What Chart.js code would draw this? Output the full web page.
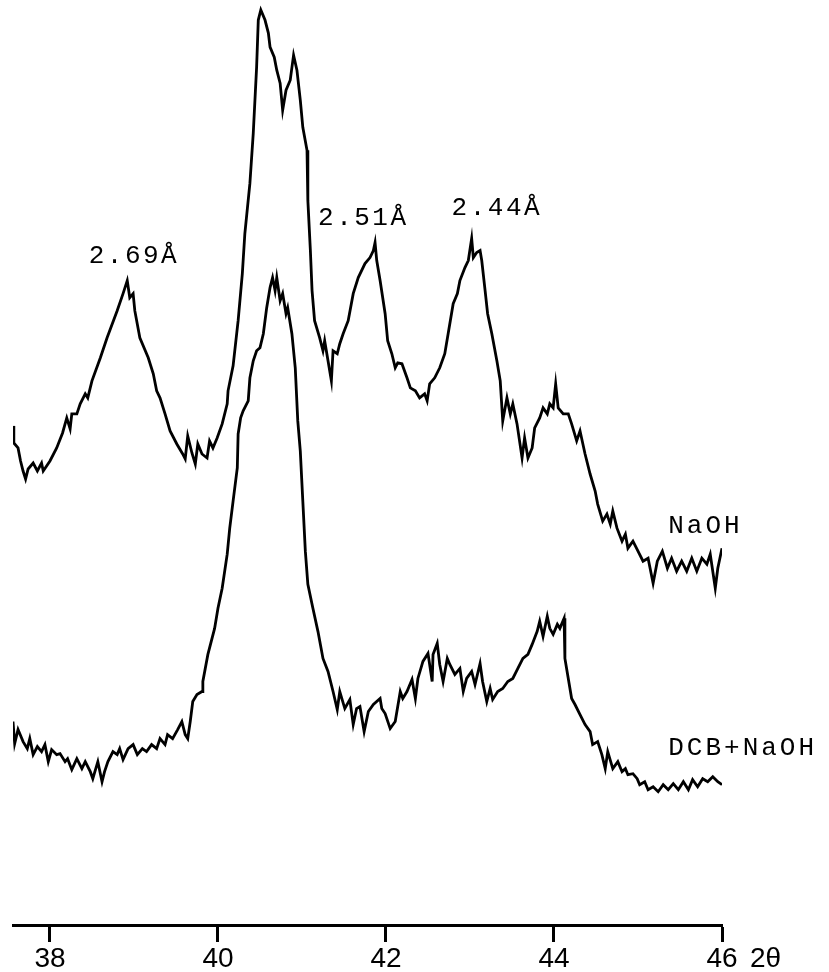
<!DOCTYPE html>
<html><head><meta charset="utf-8">
<script src="https://cdn.jsdelivr.net/npm/chart.js@4"></script>
<style>html,body{margin:0;padding:0;background:#fff;}canvas{display:block}</style>
</head><body>
<canvas id="c" width="829" height="972"></canvas>
<script>
// 2θ (degrees) and relative intensity
const twoThetaNaOH = [37.56,37.57,37.62,37.65,37.68,37.71,37.74,37.80,37.85,37.90,
37.92,38.00,38.08,38.15,38.20,38.24,38.26,38.32,38.36,38.42,
38.45,38.50,38.60,38.68,38.80,38.87,38.92,38.95,38.99,39.01,
39.07,39.17,39.23,39.27,39.31,39.37,39.43,39.51,39.58,39.61,
39.64,39.69,39.73,39.76,39.81,39.87,39.90,39.94,39.99,40.05,
40.11,40.12,40.18,40.24,40.29,40.32,40.38,40.42,40.46,40.48,
40.51,40.56,40.60,40.62,40.67,40.70,40.74,40.77,40.81,40.86,
40.90,40.94,40.98,41.01,41.06,41.07,41.10,41.12,41.15,41.21,
41.25,41.27,41.31,41.35,41.37,41.42,41.45,41.49,41.55,41.61,
41.67,41.75,41.81,41.85,41.87,41.89,41.93,41.99,42.02,42.07,
42.11,42.14,42.19,42.25,42.29,42.35,42.40,42.46,42.49,42.52,
42.58,42.64,42.70,42.74,42.80,42.85,42.88,42.94,42.98,43.02,
43.04,43.08,43.12,43.14,43.18,43.21,43.26,43.32,43.36,43.39,
43.44,43.48,43.51,43.56,43.62,43.65,43.69,43.74,43.77,43.83,
43.87,43.92,43.95,43.99,44.02,44.05,44.11,44.17,44.21,44.27,
44.31,44.37,44.43,44.49,44.52,44.58,44.63,44.67,44.70,44.75,
44.81,44.85,44.88,44.94,45.00,45.06,45.12,45.18,45.23,45.29,
45.35,45.40,45.46,45.52,45.58,45.64,45.70,45.76,45.82,45.86,
45.92,45.95,46.00];
const intensityNaOH = [498,481,476,463,453,445,455,461,453,461,
453,463,476,491,506,495,510,510,520,530,
526,543,566,586,613,630,643,626,630,613,
586,566,550,533,526,510,493,480,470,465,
488,471,460,480,470,466,483,476,486,500,
520,533,558,603,650,690,740,790,856,903,
913,903,890,876,866,853,840,813,833,843,
868,853,823,796,773,723,673,633,603,586,
573,583,563,543,573,570,580,590,603,630,
646,660,666,673,681,663,643,610,583,570,
556,561,560,546,536,533,526,530,523,540,
546,556,570,590,620,630,643,656,663,685,
666,671,673,663,633,610,590,563,543,503,
526,510,520,500,466,486,466,476,496,506,
516,510,520,516,540,516,510,510,500,483,
493,470,450,433,420,403,410,400,413,396,
383,390,376,383,373,363,366,341,363,373,
356,366,353,363,353,366,353,366,360,370,
336,356,376];
const twoThetaDCB = [37.56,37.58,37.62,37.68,37.73,37.76,37.80,37.85,37.90,37.94,
37.98,38.02,38.08,38.12,38.18,38.21,38.26,38.32,38.38,38.42,
38.48,38.51,38.57,38.62,38.65,38.69,38.75,38.80,38.83,38.87,
38.93,38.99,39.04,39.10,39.15,39.21,39.27,39.31,39.37,39.40,
39.46,39.52,39.57,39.61,39.64,39.67,39.70,39.75,39.81,39.82,
39.88,39.96,40.00,40.05,40.11,40.14,40.18,40.23,40.24,40.27,
40.30,40.36,40.38,40.42,40.46,40.50,40.54,40.58,40.62,40.65,
40.68,40.70,40.74,40.77,40.81,40.83,40.88,40.92,40.95,40.98,
41.01,41.04,41.07,41.13,41.19,41.25,41.31,41.37,41.42,41.45,
41.51,41.57,41.61,41.65,41.69,41.74,41.79,41.85,41.93,41.95,
41.99,42.05,42.11,42.17,42.20,42.25,42.31,42.35,42.38,42.44,
42.50,42.55,42.56,42.61,42.64,42.68,42.73,42.76,42.82,42.88,
42.92,42.96,43.02,43.06,43.12,43.15,43.20,43.24,43.27,43.33,
43.39,43.45,43.51,43.57,43.63,43.69,43.74,43.80,43.83,43.87,
43.92,43.95,43.99,44.04,44.07,44.12,44.13,44.17,44.21,44.25,
44.31,44.37,44.43,44.46,44.52,44.57,44.61,44.64,44.70,44.76,
44.81,44.85,44.88,44.94,44.99,45.02,45.08,45.12,45.18,45.24,
45.30,45.36,45.42,45.48,45.54,45.60,45.65,45.71,45.77,45.83,
45.89,45.95,46.00];
const intensityDCB = [203,181,195,183,176,186,170,178,173,180,
163,175,170,171,163,166,155,166,156,163,
153,146,163,143,153,163,173,170,176,165,
176,180,170,176,173,180,176,186,180,190,
186,195,203,190,186,203,223,230,233,243,
270,296,316,336,370,396,423,456,490,506,
513,523,546,563,573,576,590,616,636,646,
633,646,623,630,610,616,590,556,503,473,
423,373,340,316,293,266,253,233,215,233,
216,225,200,216,218,193,213,220,226,216,
211,196,203,233,226,233,245,226,246,263,
271,243,270,281,260,243,266,260,250,256,
233,246,253,240,261,243,223,236,225,233,
236,243,246,256,266,270,280,293,303,288,
308,296,290,300,296,306,266,246,226,220,
210,200,193,180,183,170,156,173,156,163,
153,156,150,151,146,140,143,135,138,133,
140,135,141,135,143,135,145,138,146,143,
148,143,140];
const xTickValues = [38, 40, 42, 44, 46];
const axisUnit = '2θ';
const seriesNames = ['NaOH', 'DCB+NaOH'];
const peakLabels = ['2.69Å', '2.51Å', '2.44Å'];

// where the text annotations sit, in data units
const peakLabelAt = [{x: 39.0, y: 661}, {x: 41.73, y: 698}, {x: 43.32, y: 708}];
const seriesLabelAt = [{x: 45.36, y: 391}, {x: 45.36, y: 170}];

const toPoints = (xs, ys) => xs.map((v, i) => ({x: v, y: ys[i]}));

const TICK_LEN = 17, TICK_PAD = 3, TICK_FONT = 28, TICK_LH = 1;

const textPlugin = {
  id: 'texts',
  afterDraw(chart) {
    const {ctx, scales: {x, y}} = chart;
    ctx.save();
    ctx.fillStyle = '#000';
    ctx.font = '26px "Liberation Mono"';
    ctx.letterSpacing = '2.5px';
    ctx.textBaseline = 'alphabetic';
    ctx.textAlign = 'center';
    peakLabels.forEach((t, i) => {
      ctx.fillText(t, x.getPixelForValue(peakLabelAt[i].x), y.getPixelForValue(peakLabelAt[i].y));
    });
    ctx.textAlign = 'left';
    ctx.letterSpacing = '3px';
    seriesNames.forEach((t, i) => {
      ctx.fillText(t, x.getPixelForValue(seriesLabelAt[i].x), y.getPixelForValue(seriesLabelAt[i].y));
    });
    ctx.letterSpacing = '0px';
    ctx.font = TICK_FONT + 'px "Liberation Sans"';
    ctx.textBaseline = 'middle';
    ctx.fillText(axisUnit, x.getPixelForValue(xTickValues[xTickValues.length - 1]) + 28,
                 x.top + TICK_LEN + TICK_PAD + TICK_FONT * TICK_LH / 2);
    ctx.restore();
  }
};

new Chart(document.getElementById('c'), {
  type: 'line',
  data: {
    datasets: [
      {label: seriesNames[0], data: toPoints(twoThetaNaOH, intensityNaOH), borderColor: '#000', borderWidth: 2.8, pointRadius: 0, tension: 0, fill: false},
      {label: seriesNames[1], data: toPoints(twoThetaDCB, intensityDCB), borderColor: '#000', borderWidth: 2.8, pointRadius: 0, tension: 0, fill: false}
    ]
  },
  options: {
    responsive: false,
    animation: false,
    layout: {padding: {left: 13, right: 107, top: 3, bottom: -4}},
    plugins: {legend: {display: false}, tooltip: {enabled: false}},
    scales: {
      x: {
        type: 'linear', min: 37.56, max: 46,
        afterBuildTicks: s => { s.ticks = xTickValues.map(v => ({value: v})); },
        grid: {drawOnChartArea: false, drawTicks: true, tickLength: TICK_LEN, tickWidth: 3, tickColor: '#000'},
        border: {display: true, color: '#000', width: 3},
        ticks: {color: '#000', font: {family: '"Liberation Sans"', size: TICK_FONT, lineHeight: TICK_LH}, padding: TICK_PAD, maxRotation: 0, autoSkip: false}
      },
      y: {display: false, min: 0, max: 920}
    }
  },
  plugins: [textPlugin]
});
</script>
</body></html>
